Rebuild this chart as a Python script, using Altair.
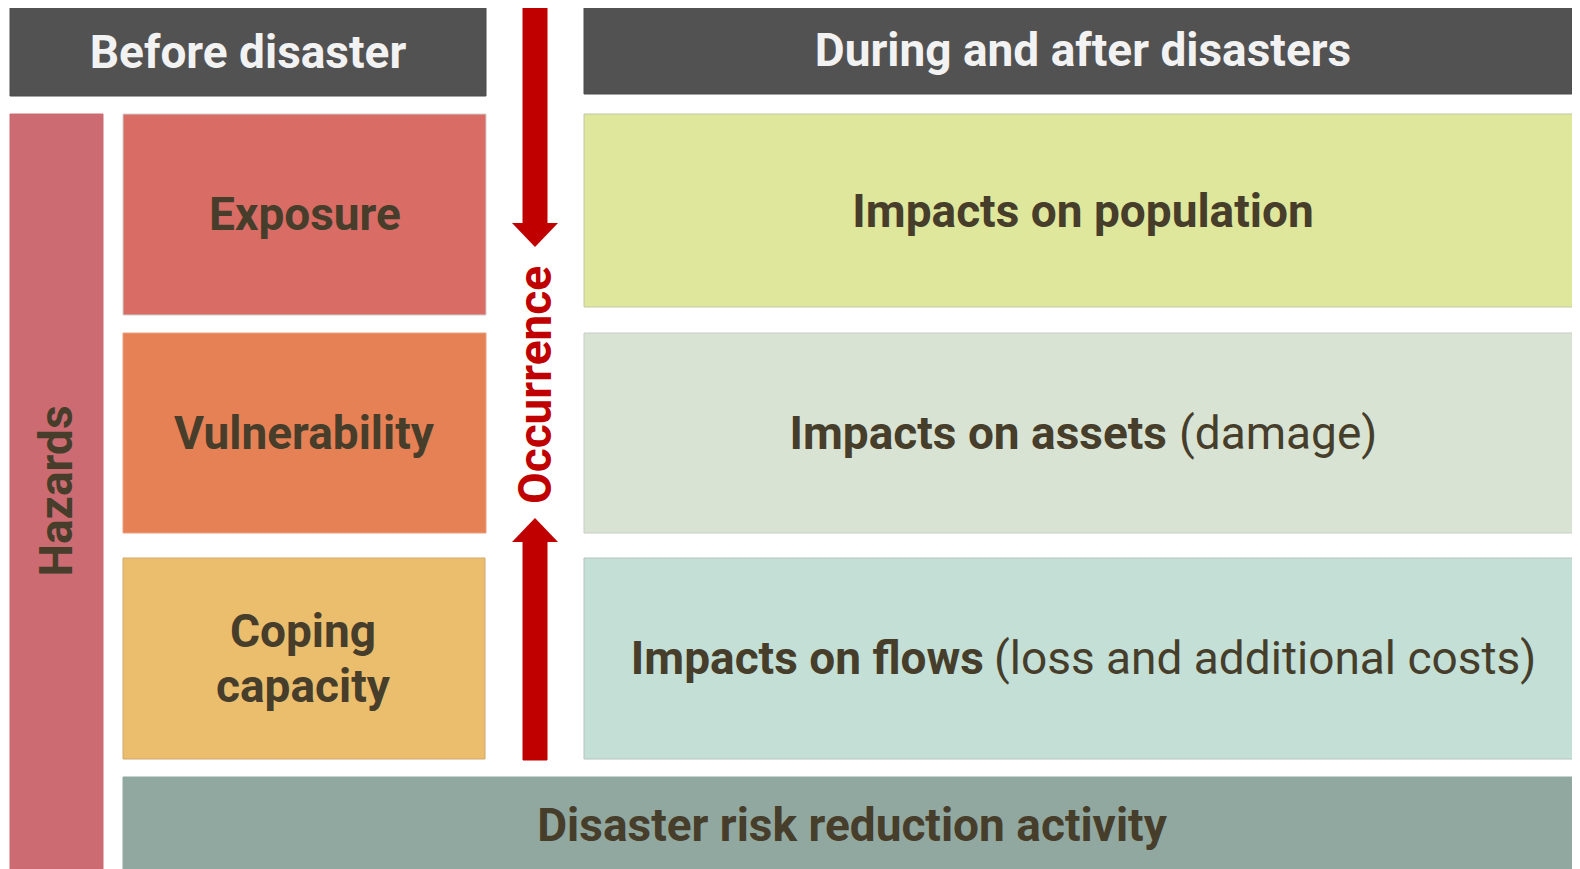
import altair as alt
import pandas as pd

# ---- content ----
box_ids = ["before", "during", "hazards", "exposure", "vulnerability", "coping",
           "population", "assets", "flows", "drr", "shaft_down", "shaft_up"]
box_x0 = [10, 584, 10, 123, 123, 123, 584, 584, 584, 123, 523, 523]
box_x1 = [486, 1580, 103, 486, 486, 485, 1580, 1580, 1580, 1580, 547, 547]
box_y0 = [7, 7, 114, 114, 333, 558, 114, 333, 558, 777, 5, 542]
box_y1 = [96, 94, 869, 315, 533, 759, 307, 533, 759, 869, 224, 760]
box_fill = ["#525252", "#525252", "#CC6B72", "#D96C65", "#E68156", "#EBBE6E",
            "#DEE79B", "#D8E3D3", "#C3DFD6", "#91A8A0", "#C00000", "#C00000"]
box_stroke = ["#4A4A4A", "#4A4A4A", "#CC6B72", "#CFCFCF", "#E8A081", "#D2A86A",
              "#C2C6A6", "#C8CCC4", "#B4C4BE", "#91A8A0", "#C00000", "#C00000"]

head_arrow = ["down", "down", "down", "up", "up", "up"]
head_x = [512, 535, 558, 512, 535, 558]
head_base = [223, 223, 223, 542, 542, 542]
head_tip = [223, 247, 223, 542, 518, 542]

header_text = ["Before disaster", "During and after disasters"]
header_x = [248, 1083]
header_y = [68, 66]

center_text = ["Exposure", "Vulnerability", "Coping", "capacity",
               "Impacts on population", "Disaster risk reduction activity"]
center_x = [305, 304, 303, 303, 1083, 852]
center_y = [230, 449, 647, 702, 227, 841]

bold_right_text = ["Impacts on assets", "Impacts on flows"]
bold_right_x = [1167, 984]
bold_right_y = [449, 674]

regular_left_text = ["(damage)", "(loss and additional costs)"]
regular_left_x = [1179, 994]
regular_left_y = [449, 674]

hazard_text = ["Hazards"]
hazard_x = [72]
hazard_y = [491]

occ_text = ["Occurrence"]
occ_x = [551]
occ_y = [385]

TEXT_DARK = "#463D2B"
FONT = "Roboto"
FS = 46

W, H = 1564, 861
X = alt.Scale(domain=[8, 8 + W], nice=False, zero=False)
Y = alt.Scale(domain=[8, 8 + H], reverse=True, nice=False, zero=False)

boxes = pd.DataFrame({"id": box_ids, "x0": box_x0, "x1": box_x1, "y0": box_y0,
                      "y1": box_y1, "fill": box_fill, "stroke": box_stroke})
heads = pd.DataFrame({"arrow": head_arrow, "x": head_x, "yb": head_base, "yt": head_tip})


def tdf(texts, xs, ys):
    return pd.DataFrame({"t": texts, "x": xs, "y": ys})


rects = alt.Chart(boxes).mark_rect(strokeWidth=1).encode(
    x=alt.X("x0:Q", scale=X, axis=None),
    x2="x1:Q",
    y=alt.Y("y0:Q", scale=Y, axis=None),
    y2="y1:Q",
    fill=alt.Fill("fill:N", scale=None),
    stroke=alt.Stroke("stroke:N", scale=None),
)

arrowheads = alt.Chart(heads).mark_area(color="#C00000", interpolate="linear").encode(
    x=alt.X("x:Q", scale=X, axis=None),
    y=alt.Y("yb:Q", scale=Y, axis=None, stack=None),
    y2="yt:Q",
    detail="arrow:N",
)


def text_layer(df, color, weight, align, angle=0):
    return alt.Chart(df).mark_text(
        font=FONT, fontSize=FS, fontWeight=weight, color=color,
        align=align, baseline="alphabetic", angle=angle,
    ).encode(
        x=alt.X("x:Q", scale=X, axis=None),
        y=alt.Y("y:Q", scale=Y, axis=None),
        text="t:N",
    )


layers = [
    rects,
    arrowheads,
    text_layer(tdf(header_text, header_x, header_y), "#F2F2F2", "bold", "center"),
    text_layer(tdf(center_text, center_x, center_y), TEXT_DARK, "bold", "center"),
    text_layer(tdf(bold_right_text, bold_right_x, bold_right_y), TEXT_DARK, "bold", "right"),
    text_layer(tdf(regular_left_text, regular_left_x, regular_left_y), TEXT_DARK, "normal", "left"),
    text_layer(tdf(hazard_text, hazard_x, hazard_y), TEXT_DARK, "bold", "center", 270),
    text_layer(tdf(occ_text, occ_x, occ_y), "#C00000", "bold", "center", 270),
]

chart = alt.layer(*layers).properties(
    width=W, height=H, padding=0, autosize=alt.AutoSizeParams(type="none"),
).configure_view(stroke=None, clip=True)

chart.save("out.html", embed_options={"renderer": "svg", "actions": False})
